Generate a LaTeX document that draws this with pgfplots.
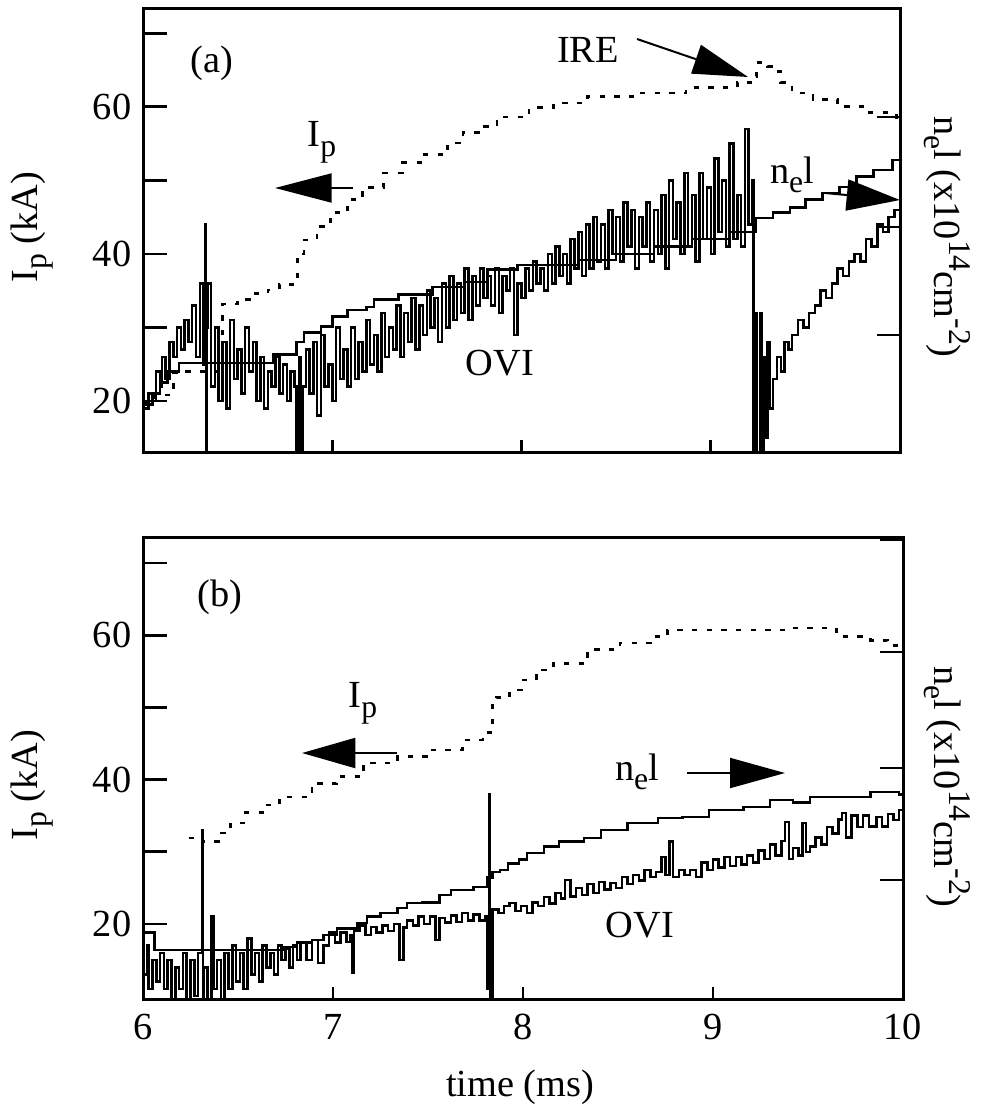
\documentclass[border=0pt]{standalone}
\usepackage{fontspec}
\setmainfont{Liberation Serif}
\usepackage{pgfplots}
\pgfplotsset{compat=1.18}
\usetikzlibrary{arrows.meta}

\newcommand{\sub}[1]{\raisebox{-0.55ex}{\fontsize{9.5}{10}\selectfont #1}}
\newcommand{\sups}[1]{\raisebox{0.85ex}{\fontsize{9.5}{10}\selectfont #1}}

\pgfplotsset{
 base/.style={scale only axis, xmin=6, xmax=10,
   axis line style={line width=0.9pt},
   tick style={line width=0.8pt, black},
   tick align=inside, major tick length=7.2pt,
   xtick style={/pgfplots/major tick length=3.6pt},
   ytick pos=left, xtick pos=bottom,
   ticklabel style={font=\fontsize{11.5}{13}\selectfont},
   xticklabel style={yshift=-1pt},
   ytick={20,30,40,50,60,70}, yticklabels={20,,40,,60,},
   xtick={6,7,8,9,10}},
 twin/.style={scale only axis, xmin=6, xmax=10,
   axis line style={draw=none},
   tick style={line width=0.8pt, black},
   tick align=inside, major tick length=7pt,
   ytick pos=right, xtick=\empty, yticklabels={}, ymin=0},
 dat/.style={const plot, black, line width=0.75pt},
 ipd/.style={const plot, black, line width=0.8pt, dash pattern=on 1.6pt off 2.8pt},
}

\begin{document}
\begin{tikzpicture}
\path[use as bounding box] (0,0) rectangle (298.5pt,-331.8pt);

% ---------------- panel (a)
\begin{axis}[base, at={(42.9pt,-135.6pt)}, anchor=south west,
  width=227.1pt, height=132.9pt, ymin=13.07, ymax=73.3, xticklabels={}]
% I_p
\addplot[ipd] coordinates {(6.00,19.8) (6.06,20.8) (6.16,23.8) (6.21,24.0) (6.39,24.0) (6.42,33.2) (6.50,33.8) (6.58,34.6) (6.66,35.1) (6.72,35.8) (6.79,36.2) (6.815,40.0) (6.85,41.9) (6.92,43.7) (6.99,45.6) (7.08,47.4) (7.16,49.0) (7.27,51.0) (7.37,52.4) (7.48,53.5) (7.61,55.1) (7.69,56.5) (7.78,57.3) (7.87,58.6) (8.04,59.9) (8.17,60.5) (8.35,61.4) (8.61,61.9) (8.87,62.6) (9.14,63.3) (9.21,64.1) (9.24,66.0) (9.30,65.5) (9.33,64.8) (9.37,63.3) (9.43,61.9) (9.54,61.0) (9.67,60.0) (9.84,59.2) (9.98,58.2) (10.0,58.2)};
% n_e l
\addplot[dat] coordinates {(6.00,19.5) (6.05,21.0) (6.09,22.5) (6.13,24.0) (6.19,25.2) (6.69,26.3) (6.81,28.0) (6.85,29.3) (6.94,30.1) (7.00,31.5) (7.08,32.4) (7.18,32.8) (7.22,33.8) (7.35,34.5) (7.53,35.5) (7.70,36.2) (7.82,37.9) (7.98,38.5) (8.20,38.5) (8.30,39.2) (8.50,40.0) (8.70,41.0) (8.90,42.0) (9.10,43.0) (9.24,44.9) (9.33,45.6) (9.42,46.3) (9.50,47.4) (9.59,48.3) (9.68,49.1) (9.77,50.5) (9.86,51.4) (9.96,52.8) (10.0,52.8)};
% OVI
\addplot[dat] coordinates {(6.00,19) (6.03,21) (6.05,20) (6.07,24) (6.09,22) (6.10,26) (6.12,23) (6.14,28) (6.16,26) (6.18,30) (6.20,27) (6.22,31) (6.24,28) (6.26,33) (6.28,26) (6.30,36) (6.32,25) (6.33,44) (6.332,5) (6.335,30)
 (6.34,36) (6.36,22) (6.38,30) (6.40,20) (6.42,28) (6.44,19) (6.46,31) (6.48,23) (6.50,27) (6.52,21) (6.54,30) (6.56,24) (6.58,28) (6.60,20) (6.62,26) (6.64,19) (6.66,24) (6.68,22) (6.70,26) (6.72,21) (6.74,25) (6.76,20) (6.78,24) (6.80,22) (6.81,5) (6.825,26) (6.835,5) (6.845,22)
 (6.86,27) (6.88,21) (6.90,28) (6.92,18) (6.94,29) (6.96,22) (6.98,25) (7.00,20) (7.02,30) (7.04,23) (7.06,27) (7.08,22) (7.10,30) (7.12,23) (7.14,28) (7.16,24) (7.18,31) (7.20,25) (7.22,29) (7.24,24) (7.26,32) (7.28,26) (7.30,30) (7.32,27) (7.34,33) (7.36,26) (7.38,32) (7.40,28) (7.42,34) (7.44,27) (7.46,33) (7.48,29) (7.50,35) (7.52,30) (7.54,34) (7.56,28) (7.58,36) (7.60,30) (7.62,37) (7.64,31) (7.66,36) (7.68,32) (7.70,38) (7.72,31) (7.74,37) (7.76,33) (7.78,38) (7.80,34) (7.82,37) (7.84,33) (7.86,38) (7.88,32) (7.90,37) (7.92,35) (7.94,38) (7.96,29) (7.98,36) (8.00,34) (8.02,38) (8.04,35) (8.06,39) (8.08,36) (8.10,38) (8.12,35) (8.14,40) (8.16,36) (8.18,41) (8.20,37) (8.22,40) (8.24,36) (8.26,42) (8.28,38) (8.30,43) (8.32,37) (8.34,44) (8.36,38) (8.38,45) (8.40,39) (8.42,44) (8.44,38) (8.46,46) (8.48,40) (8.50,45) (8.52,39) (8.54,47) (8.56,41) (8.58,46) (8.60,38) (8.62,45) (8.64,41) (8.66,47) (8.68,39) (8.70,46) (8.72,40) (8.74,48) (8.76,38) (8.78,50) (8.80,42) (8.82,47) (8.84,40) (8.86,51) (8.88,41) (8.90,48) (8.92,39) (8.94,51) (8.96,42) (8.98,49) (9.00,40) (9.02,53) (9.04,43) (9.06,50) (9.08,41) (9.10,55) (9.12,42) (9.14,48) (9.16,41) (9.18,57) (9.20,44) (9.22,50) (9.225,5) (9.235,32) (9.245,5) (9.26,32) (9.27,5) (9.28,26) (9.29,15) (9.30,28) (9.31,19) (9.33,23) (9.35,26) (9.37,24) (9.39,28) (9.41,27) (9.43,29) (9.46,31) (9.49,30) (9.52,32) (9.55,33) (9.58,35) (9.61,34) (9.64,36) (9.67,38) (9.70,37) (9.73,39) (9.76,40) (9.79,39) (9.82,42) (9.85,41) (9.88,44) (9.91,43) (9.94,45) (9.97,46) (10.0,46)};
\end{axis}
\begin{axis}[twin, at={(42.9pt,-135.6pt)}, anchor=south west,
  width=227.1pt, height=132.9pt, ymax=443, ytick={117,225,335}]
\end{axis}

% ---------------- panel (b)
\begin{axis}[base, at={(42.9pt,-299.7pt)}, anchor=south west,
  width=228pt, height=138.6pt, ymin=9.6, ymax=73.6, xticklabels={6,7,8,9,10}]
% I_p
\addplot[ipd] coordinates {(6.24,31.9) (6.31,31.4) (6.37,31.4) (6.41,32.6) (6.46,34.0) (6.53,35.4) (6.63,36.5) (6.72,37.6) (6.89,39.5) (7.02,40.4) (7.16,42.3) (7.34,43.2) (7.51,44.1) (7.68,45.5) (7.79,46.5) (7.83,47.3) (7.84,50.6) (7.86,51.4) (7.93,52.4) (8.00,53.8) (8.07,55.2) (8.16,56.1) (8.34,58.0) (8.51,58.9) (8.68,59.8) (8.76,60.7) (9.04,60.7) (9.39,61.0) (9.65,59.8) (9.83,59.3) (9.92,58.6) (9.98,58.4) (10.0,58.4)};
% n_e l
\addplot[dat] coordinates {(6.00,18.8) (6.06,16.4) (6.74,16.8) (6.81,17.4) (6.89,17.8) (6.95,18.5) (7.02,19.4) (7.13,20.1) (7.18,21.0) (7.25,21.5) (7.34,22.2) (7.39,22.9) (7.47,23.0) (7.56,24.0) (7.62,24.7) (7.74,25.1) (7.81,26.4) (7.84,27.2) (7.88,27.5) (7.92,28.4) (7.98,28.9) (8.02,29.8) (8.11,30.7) (8.19,31.4) (8.32,31.9) (8.41,33.0) (8.55,34.0) (8.71,34.7) (8.84,34.8) (8.98,35.8) (9.16,36.2) (9.30,37.2) (9.42,36.8) (9.51,37.6) (9.68,37.6) (9.83,38.3) (9.98,37.9) (10.0,37.9)};
% OVI
\addplot[dat] coordinates {(6.00,13) (6.02,17) (6.03,11) (6.05,15) (6.07,12) (6.09,16) (6.11,11) (6.13,15) (6.15,8) (6.17,14) (6.19,11) (6.21,16) (6.23,8) (6.25,15) (6.27,10) (6.29,16) (6.31,33) (6.315,5) (6.32,14) (6.34,8) (6.36,21) (6.37,11) (6.39,15) (6.41,8) (6.43,16) (6.45,11) (6.47,17) (6.49,12) (6.51,16) (6.53,11) (6.55,18) (6.57,13) (6.59,16) (6.61,12) (6.63,17) (6.65,14) (6.67,16) (6.69,13) (6.71,17) (6.73,15) (6.75,16.5) (6.77,14) (6.79,17) (6.81,15) (6.83,17.5) (6.86,15) (6.89,17.8) (6.92,14.6) (6.95,17) (6.98,18.8) (7.01,17.4) (7.04,18.8) (7.07,17.5) (7.09,18.5) (7.10,13.2) (7.11,19) (7.14,19.8) (7.17,18.5) (7.20,19.6) (7.23,18.8) (7.26,19.8) (7.29,19) (7.32,20) (7.35,15) (7.37,19.5) (7.39,20.5) (7.42,19.8) (7.45,21) (7.48,20) (7.51,21) (7.54,17.8) (7.56,20.8) (7.59,20.2) (7.62,21.2) (7.65,20.3) (7.68,21.5) (7.71,20.5) (7.74,21.3) (7.77,20.5) (7.80,21) (7.81,11) (7.82,38) (7.825,5) (7.835,5) (7.84,22) (7.87,21.5) (7.90,22.5) (7.93,22.9) (7.96,21.8) (7.99,22.5) (8.02,21.5) (8.05,23) (8.08,22.5) (8.11,23.7) (8.14,22.8) (8.17,24.3) (8.20,23.5) (8.22,26.1) (8.25,23.8) (8.28,25) (8.31,24) (8.34,25.5) (8.37,24.3) (8.40,25.8) (8.43,24.8) (8.46,25.7) (8.49,25) (8.52,26.5) (8.55,25.5) (8.58,26.8) (8.61,26) (8.64,27.5) (8.67,26.5) (8.70,27.2) (8.73,29.3) (8.75,26.8) (8.77,31.4) (8.79,26.5) (8.82,27.5) (8.85,26.8) (8.88,27.5) (8.91,26.5) (8.94,28.5) (8.97,27.5) (9.00,28.9) (9.03,27.8) (9.06,29.3) (9.09,28) (9.12,29.3) (9.15,28.2) (9.18,29.5) (9.21,28.5) (9.24,30.2) (9.27,29) (9.30,31) (9.33,29.5) (9.36,31.5) (9.38,34.1) (9.40,29) (9.42,30.5) (9.45,29.5) (9.47,34) (9.49,30) (9.51,30.7) (9.54,32) (9.57,31) (9.60,33.4) (9.63,32.5) (9.66,34.5) (9.68,35.4) (9.70,32) (9.73,35) (9.76,33.4) (9.79,35) (9.82,33.5) (9.86,34.8) (9.89,33.5) (9.92,35.2) (9.95,34.4) (9.98,35.8) (10.0,35)};
\end{axis}
\begin{axis}[twin, at={(42.9pt,-299.7pt)}, anchor=south west,
  width=228pt, height=138.6pt, ymax=462, ytick={119,231,347,459}]
\end{axis}

% ---------------- annotations (pixel coordinates)
\begin{scope}[x=0.3pt, y=-0.3pt, every node/.style={font=\fontsize{11.5}{13.8}\selectfont, inner sep=0pt}]
\node at (212,63) {(a)};
\node at (588,50) {IRE};
\node at (322,142) {I\sub{p}};
\node at (792,175) {n\sub{e}l};
\node at (500,363) {OVI};
\draw[line width=0.6pt, -{Triangle[length=17pt,width=8.7pt]}] (353,188) -- (275,188);
\draw[line width=0.6pt, -{Triangle[length=16.5pt,width=9pt]}] (637,39) -- (748,77);
\draw[line width=0.6pt, -{Triangle[length=16pt,width=9.3pt]}] (825,193) -- (900,200);

\node at (220,597) {(b)};
\node at (363,703) {I\sub{p}};
\node at (637,772) {n\sub{e}l};
\node at (640,925) {OVI};
\draw[line width=0.6pt, -{Triangle[length=16pt,width=9pt]}] (397,753) -- (302,753);
\draw[line width=0.6pt, -{Triangle[length=16.5pt,width=9pt]}] (687,773) -- (785,773);

\node[rotate=90] at (32,227) {I\sub{p} (kA)};
\node[rotate=90] at (32,785) {I\sub{p} (kA)};
\node[rotate=-90] at (947,237) {n\sub{e}l (x10\sups{14}cm\sups{-2})};
\node[rotate=-90] at (947,787) {n\sub{e}l (x10\sups{14}cm\sups{-2})};
\node at (520,1087) {time (ms)};
\end{scope}
\end{tikzpicture}
\end{document}
